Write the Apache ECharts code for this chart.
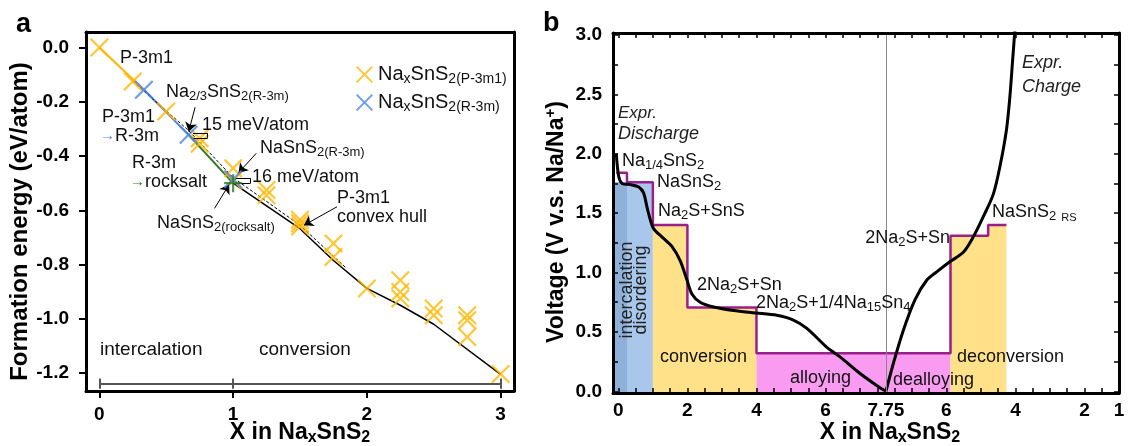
<!DOCTYPE html>
<html>
<head>
<meta charset="utf-8">
<script src="https://cdn.jsdelivr.net/npm/echarts@6/dist/echarts.min.js"></script>
<style>
  html, body { margin: 0; padding: 0; background: #fff; }
  #chart { width: 1128px; height: 446px; }
</style>
</head>
<body>
<div id="chart"></div>
<script>
// ---- panel a: formation energy vs Na content ----
const p3m1X = [0, 0.25, 0.5, 0.75, 0.75, 1, 1, 1.25, 1.25, 1.5, 1.5, 1.5, 1.75, 1.75, 2, 2.25, 2.25, 2.25, 2.5, 2.5, 2.75, 2.75, 2.75, 3];
const p3m1E = [0, -0.125, -0.236, -0.335, -0.355, -0.445, -0.49, -0.525, -0.545, -0.635, -0.648, -0.66, -0.722, -0.772, -0.888, -0.858, -0.901, -0.925, -0.962, -0.987, -0.987, -1.005, -1.067, -1.203];
const r3mX = [0.333, 0.667, 1];
const r3mE = [-0.156, -0.322, -0.486];
const rocksaltX = [1];
const rocksaltE = [-0.5];
// lowest-energy path: P-3m1 -> R-3m -> rocksalt, then convex hull
const pathX = [0, 0.333, 0.667, 1];
const pathE = [0, -0.156, -0.322, -0.5];
const hullX = [1, 1.5, 1.75, 2, 2.25, 2.5, 3];
const hullE = [-0.5, -0.668, -0.785, -0.888, -0.95, -1.02, -1.205];
const p3m1HullX = [0.25, 0.667, 1, 1.5, 1.85];
const p3m1HullE = [-0.125, -0.306, -0.48, -0.655, -0.815];
const aTicksX = [0, 1, 2, 3];
const aTicksY = [0, -0.2, -0.4, -0.6, -0.8, -1.0, -1.2];

// ---- panel b: voltage profile ----
const dischargeX = [-0.06, 0.01, 0.11, 0.35, 0.59, 0.73, 0.83, 0.93, 1.02, 1.26, 1.55, 1.79, 1.99, 2.13, 2.37, 2.76, 3.34, 3.98, 4.59, 5.07, 5.46, 6.04, 6.42, 7.0, 7.48, 7.75];
const dischargeV = [2.0, 1.81, 1.75, 1.74, 1.72, 1.67, 1.55, 1.44, 1.37, 1.30, 1.22, 1.10, 0.935, 0.82, 0.75, 0.71, 0.68, 0.66, 0.64, 0.60, 0.53, 0.37, 0.29, 0.15, 0.05, 0.0];
const chargeX = [7.75, 7.54, 7.25, 6.91, 6.57, 6.28, 5.9, 5.51, 5.22, 4.93, 4.64, 4.45, 4.26, 4.16, 4.08, 4.0];
const chargeV = [0.0, 0.23, 0.51, 0.77, 0.935, 1.005, 1.09, 1.17, 1.30, 1.47, 1.66, 1.89, 2.20, 2.48, 2.79, 3.1];
// computed plateaus (Na content where each plateau starts)
const dischEdges = [-0.06, 0.25, 1, 2, 4];
const dischPlateauV = [1.84, 1.76, 1.40, 0.705, 0.32];
const chargeEdges = [5.88, 4.79, 4.26];
const chargePlateauV = [1.31, 1.40];
const bLabelsDis = [0, 2, 4, 6, 7.75];
const bLabelsChg = [6, 4, 2, 1];
const xFull = 7.75;

// charge runs back along the same axis
const toAxis = x => 2 * xFull - x;
const zip = (xs, ys) => xs.map((x, i) => [x, ys[i]]);

const font = 'Liberation Sans, Arial, Helvetica, sans-serif';
const ORANGE = '#FFB600', BLUE = '#4A84E2', GREEN = '#2B7A22', PURPLE = '#9A1E8C';

const bMinX = -0.155, bMaxX = 14.5;
const bTicks = [];
for (let t = 0; t <= bMaxX + 1e-9; t += 0.5) bTicks.push(t);
const bLabelPos = bLabelsDis.concat(bLabelsChg.map(toAxis));
const bLabelTxt = bLabelsDis.concat(bLabelsChg).map(String);
const vTicks = [], vLabels = [];
for (let v = 0; v <= 3 + 1e-9; v += 0.25) vTicks.push(v);
for (let v = 0; v <= 3 + 1e-9; v += 0.5) vLabels.push(v);

// step outline of computed voltages
const stepPts = [];
dischEdges.forEach((e, i) => {
  const end = i < dischEdges.length - 1 ? dischEdges[i + 1] : toAxis(chargeEdges[0]);
  stepPts.push([e, dischPlateauV[i]], [end, dischPlateauV[i]]);
});
chargePlateauV.forEach((v, j) => {
  stepPts.push([toAxis(chargeEdges[j]), v], [toAxis(chargeEdges[j + 1]), v]);
});

const rich = {
  s: { fontSize: 13, lineHeight: 9, verticalAlign: 'bottom', fontFamily: font },
  ab: { fill: BLUE, fontFamily: font, fontSize: 15 },
  ag: { fill: GREEN, fontFamily: font, fontSize: 15 },
  rs: { fontSize: 11, lineHeight: 9, verticalAlign: 'bottom', fontFamily: font }
};
const titleRich = {
  s: { fontSize: 16, lineHeight: 10, verticalAlign: 'bottom', fontWeight: 'bold', fontFamily: font },
  p: { fontSize: 15, lineHeight: 14, verticalAlign: 'top', fontWeight: 'bold', fontFamily: font }
};

const X_PATH = 'path://M0,0.8L0.8,0L5,4.2L9.2,0L10,0.8L5.8,5L10,9.2L9.2,10L5,5.8L0.8,10L0,9.2L4.2,5Z';
const PLUS_PATH = 'path://M4.4,0H5.6V4.4H10V5.6H5.6V10H4.4V5.6H0V4.4H4.4Z';

function frameAxis(dim, grid, pos, min, max, extra) {
  return Object.assign({
    type: 'value', gridIndex: grid, position: pos, min, max, z: 10,
    axisLine: { show: true, onZero: false, lineStyle: { color: '#000', width: 3 } },
    axisTick: { show: false }, axisLabel: { show: false }, splitLine: { show: false }
  }, extra || {});
}
const tickLabel = { color: '#000', fontFamily: font, fontWeight: 'bold', fontSize: 19 };

const xAxis = [
  frameAxis('x', 0, 'bottom', -0.1, 3.1, {
    axisTick: { show: true, inside: false, length: 7, customValues: aTicksX, lineStyle: { width: 2, color: '#000' } },
    axisLabel: Object.assign({ show: true, margin: 14, customValues: aTicksX }, tickLabel),
    name: 'X in Na{s|x}SnS{s|2}', nameLocation: 'middle', nameGap: 29, nameMoveOverlap: false,
    nameTextStyle: { color: '#000', fontFamily: font, fontWeight: 'bold', fontSize: 23, lineHeight: 26, rich: titleRich }
  }),
  frameAxis('x', 0, 'top', -0.1, 3.1),
  frameAxis('x', 1, 'bottom', bMinX, bMaxX, {
    axisTick: { show: true, inside: true, length: 5, customValues: bTicks, lineStyle: { width: 1.5, color: '#000' } },
    axisLabel: Object.assign({
      show: true, margin: 8, customValues: bLabelPos,
      formatter: v => { const i = bLabelPos.findIndex(p => Math.abs(p - v) < 1e-6); return i < 0 ? '' : bLabelTxt[i]; }
    }, tickLabel),
    name: 'X in Na{s|x}SnS{s|2}', nameLocation: 'middle', nameGap: 27, nameMoveOverlap: false,
    nameTextStyle: { color: '#000', fontFamily: font, fontWeight: 'bold', fontSize: 23, lineHeight: 26, rich: titleRich, padding: [0, 0, 0, 48] }
  }),
  frameAxis('x', 1, 'top', bMinX, bMaxX, {
    axisTick: { show: true, inside: true, length: 5, customValues: bTicks, lineStyle: { width: 1.5, color: '#000' } }
  })
];
const yAxis = [
  frameAxis('y', 0, 'left', -1.266, 0.057, {
    axisTick: { show: true, inside: false, length: 7, customValues: aTicksY, lineStyle: { width: 2, color: '#000' } },
    axisLabel: Object.assign({ show: true, margin: 17, customValues: aTicksY, formatter: v => v.toFixed(1) }, tickLabel),
    name: 'Formation energy (eV/atom)', nameLocation: 'middle', nameGap: 54,
    nameTextStyle: { color: '#000', fontFamily: font, fontWeight: 'bold', fontSize: 24, padding: [0, 20, 0, 0] }
  }),
  frameAxis('y', 0, 'right', -1.266, 0.057),
  frameAxis('y', 1, 'left', -0.014, 3.016, {
    axisTick: { show: true, inside: true, length: 5, customValues: vTicks, lineStyle: { width: 1.5, color: '#000' } },
    axisLabel: Object.assign({ show: true, margin: 11, customValues: vLabels, formatter: v => v.toFixed(1) }, tickLabel),
    name: 'Voltage (V v.s. Na/Na{p|+})', nameLocation: 'middle', nameGap: 42,
    nameTextStyle: { color: '#000', fontFamily: font, fontWeight: 'bold', fontSize: 23, lineHeight: 28, rich: titleRich, padding: [0, 18, 0, 0] }
  }),
  frameAxis('y', 1, 'right', -0.014, 3.016, {
    axisTick: { show: true, inside: true, length: 5, customValues: vTicks, lineStyle: { width: 1.5, color: '#000' } }
  })
];

const A = { xAxisIndex: 0, yAxisIndex: 0 };
const B = { xAxisIndex: 2, yAxisIndex: 2 };
const seg = (pts, color, width, type) => Object.assign({
  type: 'line', data: pts, symbol: 'none', silent: true,
  lineStyle: { color, width, type: type || 'solid' }
}, A);
const fill = (pts, color) => Object.assign({
  type: 'line', data: pts, symbol: 'none', silent: true, z: 1,
  lineStyle: { width: 0 }, areaStyle: { color, opacity: 1, origin: 'start' }
}, B);

const arrow = (from, to) => [{ coord: from, symbol: 'none' }, { coord: to, symbol: 'arrow' }];
const plain = (from, to) => [{ coord: from, symbol: 'none' }, { coord: to, symbol: 'none' }];

const path = zip(pathX, pathE);
const series = [
  seg(path.slice(0, 2), ORANGE, 2),
  seg(path.slice(1, 3), BLUE, 2),
  seg(path.slice(2, 4), GREEN, 2),
  seg(zip(p3m1HullX, p3m1HullE), '#000', 1, [3, 2]),
  Object.assign(seg(zip(hullX, hullE), '#000', 1.5), {
    markLine: {
      silent: true, symbolSize: 9, label: { show: false },
      lineStyle: { color: '#000', width: 1, type: 'solid' },
      data: [
        arrow([0.716, -0.22], [0.668, -0.31]),
        arrow([1.173, -0.39], [1.04, -0.462]),
        arrow([0.861, -0.593], [0.97, -0.505]),
        arrow([1.777, -0.587], [1.53, -0.655]),
        plain([0.7, -0.316], [0.81, -0.316]),
        plain([0.7, -0.333], [0.81, -0.333]),
        plain([0.81, -0.316], [0.81, -0.333]),
        plain([1.02, -0.482], [1.13, -0.482]),
        plain([1.02, -0.5], [1.13, -0.5]),
        plain([1.13, -0.482], [1.13, -0.5])
      ]
    }
  }),
  Object.assign(seg([], '#555', 2), {
    markLine: {
      silent: true, symbol: 'none', label: { show: false },
      lineStyle: { color: '#555', width: 2, type: 'solid' },
      data: [
        plain([0, -1.239], [3, -1.239]),
        plain([0, -1.22], [0, -1.258]),
        plain([1, -1.22], [1, -1.258]),
        plain([3, -1.22], [3, -1.258])
      ]
    }
  }),
  Object.assign({ name: 'P-3m1', type: 'scatter', data: zip(p3m1X, p3m1E), symbol: X_PATH, symbolSize: 19, itemStyle: { color: ORANGE }, z: 4 }, A),
  Object.assign({ name: 'R-3m', type: 'scatter', data: zip(r3mX, r3mE), symbol: X_PATH, symbolSize: 19, itemStyle: { color: BLUE }, z: 5 }, A),
  Object.assign({ name: 'rocksalt', type: 'scatter', data: zip(rocksaltX, rocksaltE), symbol: PLUS_PATH, symbolSize: 18, itemStyle: { color: GREEN }, z: 6 }, A),

  // panel b
  fill([[bMinX, dischPlateauV[1]], [dischEdges[2], dischPlateauV[1]]], '#A9C7EB'),
  fill([[bMinX, dischPlateauV[1]], [dischEdges[1], dischPlateauV[1]]], '#8FB1D9'),
  fill(stepPts.slice(4, 8), '#FFE189'),
  fill(stepPts.slice(8, 10), '#F99CF1'),
  fill(stepPts.slice(10, 14), '#FFE189'),
  Object.assign({
    type: 'line', data: stepPts, symbol: 'none', silent: true, z: 3,
    lineStyle: { color: PURPLE, width: 2.5 },
    markLine: {
      silent: true, symbol: 'none', label: { show: false },
      lineStyle: { color: '#888', width: 1, type: 'solid' },
      data: [{ xAxis: xFull }]
    }
  }, B),
  Object.assign({
    type: 'line', data: zip(dischargeX, dischargeV), symbol: 'none', silent: true, z: 4,
    smooth: 0.3, lineStyle: { color: '#000', width: 3 }
  }, B),
  Object.assign({
    type: 'line', data: zip(chargeX.map(toAxis), chargeV), symbol: 'none', silent: true, z: 4,
    smooth: 0.3, lineStyle: { color: '#000', width: 3 }
  }, B)
];

// annotation texts: [left, centerY, text, extra]
const notes = [
  [120, 58, 'P-3m1'],
  [166, 92, 'Na{s|2/3}SnS{s|2(R-3m)}'],
  [202, 125, '15 meV/atom'],
  [102, 117, 'P-3m1'],
  [100, 136, '{ab|→}R-3m'],
  [132, 163, 'R-3m'],
  [130, 182, '{ag|→}rocksalt'],
  [260, 148, 'NaSnS{s|2(R-3m)}'],
  [252, 177, '16 meV/atom'],
  [157, 223, 'NaSnS{s|2(rocksalt)}'],
  [337, 198, 'P-3m1'],
  [337, 217, 'convex hull'],
  [100, 350, 'intercalation', { fontSize: 19 }],
  [259, 350, 'conversion', { fontSize: 19 }],
  [618, 113, 'Expr.', { fontStyle: 'italic', fontSize: 17, fill: '#222' }],
  [618, 134, 'Discharge', { fontStyle: 'italic', fontSize: 18, fill: '#222' }],
  [622, 161, 'Na{s|1/4}SnS{s|2}'],
  [657, 182, 'NaSnS{s|2}'],
  [658, 211, 'Na{s|2}S+SnS'],
  [697, 285, '2Na{s|2}S+Sn'],
  [756, 303, '2Na{s|2}S+1/4Na{s|15}Sn{s|4}'],
  [660, 357, 'conversion'],
  [790, 378, 'alloying'],
  [893, 380, 'dealloying'],
  [957, 357, 'deconversion'],
  [950, 238, '2Na{s|2}S+Sn', { align: 'right' }],
  [992, 212, 'NaSnS{s|2} {rs|RS}'],
  [1022, 63, 'Expr.', { fontStyle: 'italic', fontSize: 18, fill: '#222' }],
  [1022, 87, 'Charge', { fontStyle: 'italic', fontSize: 18, fill: '#222' }]
];

const graphic = notes.map(([x, y, text, extra]) => ({
  type: 'text', x, y, z: 100, silent: true,
  style: Object.assign({
    text, fill: '#111', fontFamily: font, fontSize: 18, lineHeight: 22,
    align: 'left', verticalAlign: 'middle', rich
  }, extra || {})
}));
graphic.push(
  { type: 'text', x: 16, y: 25, z: 100, style: { text: 'a', fill: '#000', fontFamily: font, fontWeight: 'bold', fontSize: 27, align: 'left', verticalAlign: 'middle' } },
  { type: 'text', x: 543, y: 24, z: 100, style: { text: 'b', fill: '#000', fontFamily: font, fontWeight: 'bold', fontSize: 27, align: 'left', verticalAlign: 'middle' } },
  { type: 'text', x: 634, y: 290, z: 100, rotation: Math.PI / 2, silent: true,
    style: { text: 'intercalation\ndisordering', fill: '#222', fontFamily: font, fontSize: 18, lineHeight: 14, align: 'center', verticalAlign: 'middle' } }
);

const chart = echarts.init(document.getElementById('chart'));
chart.setOption({
  animation: false,
  backgroundColor: '#fff',
  grid: [
    { left: 86, top: 32, width: 428, height: 359, containLabel: false, outerBoundsMode: 'none' },
    { left: 613, top: 33, width: 506, height: 360, containLabel: false, outerBoundsMode: 'none' }
  ],
  legend: {
    data: ['P-3m1', 'R-3m'], left: 351, top: 58, orient: 'vertical',
    itemWidth: 17, itemHeight: 17, itemGap: 5, selectedMode: false,
    formatter: n => 'Na{s|x}SnS{s|2(' + n + ')}',
    textStyle: { color: '#111', fontFamily: font, fontSize: 20, lineHeight: 23,
      rich: { s: { fontSize: 14, lineHeight: 9, verticalAlign: 'bottom', fontFamily: font } } }
  },
  xAxis, yAxis, series, graphic
});
</script>
</body>
</html>
